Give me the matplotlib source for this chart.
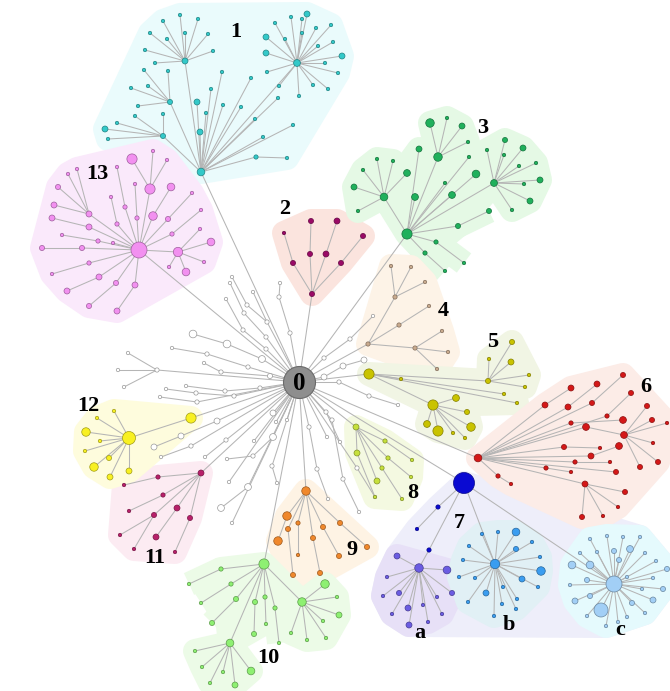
import numpy as np
import matplotlib
matplotlib.use("Agg")
import matplotlib.pyplot as plt
from matplotlib.collections import LineCollection
from matplotlib.patches import Polygon
from matplotlib.colors import to_rgb

# Tree data: (x, y, radius, [children]); leaves may be (x, y) or (x, y, r)
ROOT = (299, 382)

tree_0 = (299, 382, 16, [
    (267, 322, 2.5, [(247, 305, 2.5, [(232, 277)]), (253, 292)]),
    (266, 337, 2.5, [(244, 313, 2.5, [(230, 283)])]),
    (266, 349, 2.5, [(243, 330, 2.5, [(226, 299)])]),
    (290, 333, 2.5, [(279, 297, 2.5, [(280, 283)])]),
    (262, 359, 4, [(227, 344, 4.5, [(193, 334, 4.5)])]),
    (248, 367, 2.5, [(207, 354, 2.5, [(172, 348)])]),
    (270, 376, 3, [(221, 372, 2.5, [(204, 363)])]),
    (157, 370, 2.5, [(128, 353), (118, 370), (124, 387)]),
    (260, 388, 2.5, [(225, 391, 2.5, [(186, 386)])]),
    (234, 396, 2.5, [(196, 393, 2.5, [(166, 389)])]),
    (197, 402, 2.5, [(160, 397)]),
    (339, 382, 2.5, [(369, 396, 2.5, [(398, 405)])]),
    (324, 377, 3.5, [(343, 366, 3.5, [(364, 360, 3.5)])]),
    (324, 358, 2.5, [(350, 339, 2.5, [(373, 316)])]),
    (217, 421, 3.5, [(181, 436, 3.5, [(154, 447, 3.5)])]),
    (191, 446, 2.5, [(161, 457)]),
    (226, 440, 2.5, [(205, 457)]),
    (273, 413, 3.5), (287, 420), (276, 422),
    (273, 437, 4, [(253, 456, 2.5, [(227, 459)])]),
    (254, 441),
    (272, 466, 2.5, [(277, 483)]),
    (248, 487, 4, [(221, 508, 4)]),
    (229, 482), (232, 523),
    (309, 427, 2.5, [(317, 469, 2.5, [(328, 499)])]),
    (326, 412, 2.5, [(340, 442)]),
    (332, 420, 2.5, [(343, 479, 2.5, [(359, 512)])]),
    (357, 468, 2.5, [(375, 497)]),
    (327, 437),
])

tree_1 = (201, 172, 4.5, [
    (185, 61, 3.5, [(180, 15), (163, 21), (198, 19), (150, 33), (185, 33), (167, 39),
                    (208, 34), (145, 50), (213, 51), (155, 63)]),
    (297, 63, 4, [(307, 14, 3.5), (275, 23), (291, 17), (302, 19), (316, 28), (331, 25),
                  (266, 37, 3.5), (285, 39), (302, 33), (333, 42), (266, 53, 3.5), (318, 46),
                  (342, 56, 3.5), (325, 63), (267, 72), (338, 73), (313, 85), (328, 89),
                  (299, 96), (279, 86)]),
    (170, 102, 3, [(144, 70), (168, 71), (131, 88), (148, 86), (138, 106)]),
    (163, 136, 3, [(135, 116), (163, 114), (117, 123), (105, 129, 3.5), (108, 139)]),
    (197, 102, 3.5), (200, 132, 3.5), (206, 113), (211, 89), (222, 72), (223, 105),
    (241, 107), (251, 78), (255, 119), (278, 98), (263, 137), (293, 125),
    (256, 157, 2.5, [(287, 158)]),
])

tree_13 = (139, 250, 8, [
    (150, 189, 6, [(132, 159, 6), (153, 151), (167, 160)]),
    (89, 214, 3.5, [(68, 174), (77, 169), (58, 187, 3), (54, 205, 3.5)]),
    (89, 227, 3.5, [(52, 218, 3.5)]),
    (82, 248, 3, [(42, 248, 3)]),
    (98, 241, 2.5, [(62, 235)]),
    (113, 243),
    (89, 263, 2.5, [(52, 274)]),
    (99, 277, 3.5, [(67, 291, 3.5)]),
    (116, 283, 3, [(89, 306, 3)]),
    (135, 285, 3.5, [(117, 311, 3.5)]),
    (117, 224, 2.5, [(111, 197)]),
    (125, 207, 2.5, [(117, 167)]),
    (137, 218, 2.5, [(135, 184)]),
    (153, 216, 5, [(171, 187, 4.5)]),
    (168, 219, 3, [(192, 193)]),
    (172, 234, 2.5, [(201, 210)]),
    (178, 252, 5.5, [(211, 242, 4.5), (186, 272, 4.5), (204, 262), (169, 267), (200, 229)]),
])

tree_2 = (312, 294, 3, [
    (293, 263, 3, [(284, 233)]),
    (310, 254, 3, [(311, 221, 3)]),
    (326, 254, 3.5, [(337, 221, 3.5)]),
    (341, 263, 3, [(363, 236, 3)]),
])

tree_3 = (407, 234, 6, [
    (384, 197, 4.5, [(377, 159), (393, 161), (363, 170), (407, 173, 4), (354, 187, 3.5), (358, 211)]),
    (438, 157, 5, [(430, 123, 5), (447, 118), (462, 126, 3.5), (468, 142)]),
    (419, 149, 3.5), (415, 197, 4),
    (494, 183, 4, [(505, 140, 3), (523, 148, 3.5), (504, 155), (487, 150), (536, 163),
                   (519, 166), (540, 180, 3.5), (524, 184), (530, 201, 3.5), (512, 210)]),
    (476, 174, 4.5), (469, 157), (452, 195, 4), (445, 183),
    (458, 226, 3, [(489, 211, 3)]),
    (436, 242, 2.5, [(464, 263)]),
    (425, 253, 2.5, [(445, 271)]),
])

tree_4 = (368, 344, 2.5, [
    (395, 297, 2.5, [(391, 266), (411, 267), (425, 282)]),
    (399, 325, 2.5, [(429, 306)]),
    (415, 348, 2.5, [(442, 331), (448, 352), (437, 369)]),
])

tree_5 = (369, 374, 6, [
    (433, 405, 6, [(456, 398, 4), (467, 412, 3), (427, 424, 4), (438, 431, 6), (471, 427, 5),
                   (453, 433), (465, 438)]),
    (488, 381, 3, [(489, 359), (512, 342, 3), (511, 362, 3.5), (529, 375), (525, 387)]),
    (401, 379), (504, 394), (517, 403),
])

tree_6 = (478, 458, 4.5, [
    (498, 476, 2.5, [(511, 484)]),
    (545, 405, 3.5, [(571, 388, 3.5)]),
    (568, 407, 3.5, [(597, 384, 3.5)]),
    (592, 403, 3, [(623, 375, 3)]),
    (607, 416, 2.5, [(631, 393, 3)]),
    (571, 423, 2.5, [(623, 420, 4)]),
    (586, 427, 4, [(624, 435, 4, [(647, 406, 3), (652, 420, 3), (653, 443), (640, 467, 3),
                                  (658, 462, 3), (667, 423)])]),
    (564, 447, 3, [(600, 448)]),
    (591, 456, 3.5, [(619, 446, 4)]),
    (575, 462, 2.5, [(610, 462)]),
    (546, 468, 2.5, [(571, 472)]),
    (616, 472, 3),
    (585, 484, 3.5, [(603, 516), (582, 517, 3), (618, 507), (625, 492, 3)]),
])

tree_7 = (464, 483, 10.5, [
    (438, 507, 2.5, [(417, 529)]),
    (429, 550, 2.5),
])

tree_a = (419, 568, 5, [
    (397, 556, 3.5), (447, 570, 4.5), (387, 577), (452, 593, 3), (383, 596), (399, 593, 3),
    (408, 608, 3.5), (392, 614), (409, 625, 3.5), (423, 605), (428, 622), (437, 597), (442, 614),
])

tree_b = (495, 564, 5.5, [
    (516, 532, 4.5), (482, 534), (469, 546), (516, 549, 3), (532, 542), (540, 557),
    (463, 560), (541, 571, 5), (459, 577), (475, 578), (522, 579, 3.5), (538, 587),
    (486, 593, 3.5), (503, 587), (468, 602), (517, 599), (502, 604), (494, 616),
    (516, 609), (498, 532),
])

tree_c = (614, 584, 8, [
    (590, 539), (607, 536), (623, 537), (640, 537), (580, 553), (597, 552), (614, 551, 3),
    (630, 549, 4), (645, 553), (572, 565, 4.5), (590, 565, 4.5), (656, 561), (667, 569, 3),
    (587, 580, 3), (570, 585), (653, 578), (663, 589, 3), (575, 601, 3.5), (590, 596, 3),
    (642, 589), (632, 603, 3), (653, 600, 3.5), (601, 610, 7), (587, 616), (606, 626),
    (618, 622), (627, 617), (645, 613), (619, 560, 3), (627, 577),
])

tree_8 = (356, 427, 3.5, [
    (357, 453, 3.5, [(375, 497)]),
    (385, 441, 2.5, [(412, 460)]),
    (388, 458, 2.5, [(411, 477)]),
    (382, 468, 2.5, [(402, 499)]),
    (377, 481, 3.5),
])

tree_9 = (306, 491, 5, [
    (287, 516, 5, [(278, 541, 5)]),
    (288, 529, 3, [(293, 575, 3)]),
    (298, 523, 2.5, [(298, 555, 2)]),
    (313, 538, 3, [(320, 573, 3)]),
    (323, 527, 3, [(339, 556, 3)]),
    (340, 523, 3, [(367, 547, 3)]),
])

tree_10 = (264, 564, 6, [
    (221, 569, 2.5, [(189, 584)]),
    (231, 584, 2.5, [(201, 603)]),
    (236, 599, 3, [(212, 623, 3)]),
    (255, 602, 3, [(254, 634, 3)]),
    (265, 597, 2.5, [(266, 624)]),
    (275, 608, 2.5, [(279, 643)]),
    (302, 602, 5, [(325, 584, 5), (337, 597), (339, 615, 3.5), (323, 621), (326, 638),
                   (307, 640), (291, 633)]),
    (230, 643, 4.5, [(195, 651), (202, 667), (210, 683), (223, 672), (235, 685, 3.5),
                     (251, 671, 4.5)]),
])

tree_11 = (201, 473, 3.5, [
    (158, 477, 2.5, [(124, 485)]),
    (163, 495, 2.5, [(129, 511)]),
    (154, 515, 3, [(120, 535), (134, 549)]),
    (177, 508, 3.5, [(156, 537, 3.5)]),
    (190, 518, 3, [(175, 552)]),
])

tree_12 = (191, 418, 6, [
    (129, 438, 6.5, [(86, 432, 5), (114, 411), (97, 418), (100, 441), (85, 451),
                     (94, 467, 5), (109, 458, 3), (110, 477, 3.5), (129, 471, 3.5)]),
])

clusters = ['0', '1', '13', '2', '3', '4', '5', '6', '7', 'a', 'b', 'c', '8', '9', '10', '11', '12']
trees = {'0': tree_0, '1': tree_1, '13': tree_13, '2': tree_2, '3': tree_3, '4': tree_4,
         '5': tree_5, '6': tree_6, '7': tree_7, 'a': tree_a, 'b': tree_b, 'c': tree_c,
         '8': tree_8, '9': tree_9, '10': tree_10, '11': tree_11, '12': tree_12}
anchors = {'a': (429, 550), 'b': (464, 483), 'c': (464, 483)}

node_colors = {'0': '#ffffff', '1': '#33c9c9', '13': '#f290f0', '2': '#9a0a66', '3': '#20b05c',
               '4': '#c9ab8f', '5': '#c9c300', '6': '#d41818', '7': '#0a0ad2', 'a': '#6b5ce2',
               'b': '#3a9df0', 'c': '#a2cff6', '8': '#c6e03c', '9': '#f0882c', '10': '#8ef072',
               '11': '#b8206a', '12': '#f8f022'}
hull_colors = {'1': '#eafbfc', '13': '#fae9fb', '2': '#fbe4de', '3': '#e5f9e5', '4': '#fdf3e7',
               '5': '#f1f5e4', '6': '#fcece7', '7': '#eeeefa', 'a': '#e7e0f7', 'b': '#e1f0f5',
               'c': '#e5fafd', '8': '#f4f9e1', '9': '#fef3e4', '10': '#ecfbe7', '11': '#fcebf2',
               '12': '#fefcdd'}
star_hulls = ['3', '5', '10']

label_text = ['1', '13', '2', '3', '4', '5', '6', '7', '8', '9', '10', '11', '12', 'a', 'b', 'c']
label_x = [236, 97, 285, 483, 443, 493, 646, 459, 413, 352, 268, 155, 88, 420, 509, 620]
label_y = [32, 174, 209, 128, 311, 342, 387, 523, 493, 550, 658, 558, 406, 633, 625, 630]


def walk(node, parent, nodes, edges, stars):
    x, y = node[0], node[1]
    r = node[2] if len(node) > 2 else 2.0
    kids = node[3] if len(node) > 3 else []
    nodes.append((x, y, r))
    if parent is not None:
        edges.append([parent, (x, y)])
    if kids:
        stars.append([(x, y)] + [(k[0], k[1]) for k in kids])
    for k in kids:
        walk(k, (x, y), nodes, edges, stars)


def convex_hull(pts):
    pts = sorted(set(map(tuple, pts)))
    if len(pts) < 3:
        return pts
    def cross(o, a, b):
        return (a[0] - o[0]) * (b[1] - o[1]) - (a[1] - o[1]) * (b[0] - o[0])
    lower, upper = [], []
    for p in pts:
        while len(lower) >= 2 and cross(lower[-2], lower[-1], p) <= 0:
            lower.pop()
        lower.append(p)
    for p in reversed(pts):
        while len(upper) >= 2 and cross(upper[-2], upper[-1], p) <= 0:
            upper.pop()
        upper.append(p)
    return lower[:-1] + upper[:-1]


def darker(c, f=0.65):
    return tuple(v * f for v in to_rgb(c))


data = {}
for name in clusters:
    nodes, edges, stars = [], [], []
    if name == '0':
        walk(trees[name], None, nodes, edges, stars)
    else:
        walk(trees[name], anchors.get(name, ROOT), nodes, edges, stars)
    data[name] = (nodes, edges, stars)

fig = plt.figure(figsize=(6.70, 6.91), dpi=100)
ax = fig.add_axes([0, 0, 1, 1])
ax.set_xlim(0, 670)
ax.set_ylim(691, 0)
ax.axis('off')

pad_pt = 2 * 12 * 0.72


def draw_hull(pts, color, z):
    hull = convex_hull(pts)
    if len(hull) < 2:
        return
    ax.add_patch(Polygon(hull, closed=True, facecolor=color, edgecolor=color,
                         lw=pad_pt, joinstyle='round', zorder=z))


# hull backgrounds
group7 = [p[:2] for n in ['7', 'a', 'b', 'c'] for p in data[n][0]]
draw_hull(group7, hull_colors['7'], 0)
for name in clusters:
    if name in ('0', '7'):
        continue
    nodes, edges, stars = data[name]
    z = 1.5 if name in ('a', 'b', 'c') else 1
    if name in star_hulls:
        for s in stars:
            draw_hull(s, hull_colors[name], z)
    else:
        draw_hull([p[:2] for p in nodes], hull_colors[name], z)

# edges
all_edges = [e for name in clusters for e in data[name][1]]
ax.add_collection(LineCollection(all_edges, colors='#b5b5b5', linewidths=0.75, zorder=2))

# nodes (radius scaled down a touch, hubs keep their size)
for name in clusters:
    nodes = np.array(data[name][0], dtype=float)
    if name == '0':
        nodes = nodes[1:]
    face = node_colors[name]
    edge = '#9a9a9a' if name == '0' else darker(face)
    r = np.where(nodes[:, 2] > 6, nodes[:, 2], nodes[:, 2] * 0.85)
    sizes = (2 * r * 0.72) ** 2
    ax.scatter(nodes[:, 0], nodes[:, 1], s=sizes, c=face, edgecolors=edge,
               linewidths=0.5, zorder=3)

# root node
ax.scatter([ROOT[0]], [ROOT[1]], s=(2 * 16 * 0.72) ** 2, c='#8e8e8e', edgecolors='#6a6a6a',
           linewidths=0.8, zorder=4)
ax.text(ROOT[0], ROOT[1] + 1, '0', ha='center', va='center', fontsize=18, fontweight='bold',
        family='Liberation Serif', zorder=5)

for t, x, y in zip(label_text, label_x, label_y):
    ax.text(x, y, t, ha='center', va='center', fontsize=16, fontweight='bold',
            family='Liberation Serif', zorder=5)

fig.savefig('out.png', dpi=100)
